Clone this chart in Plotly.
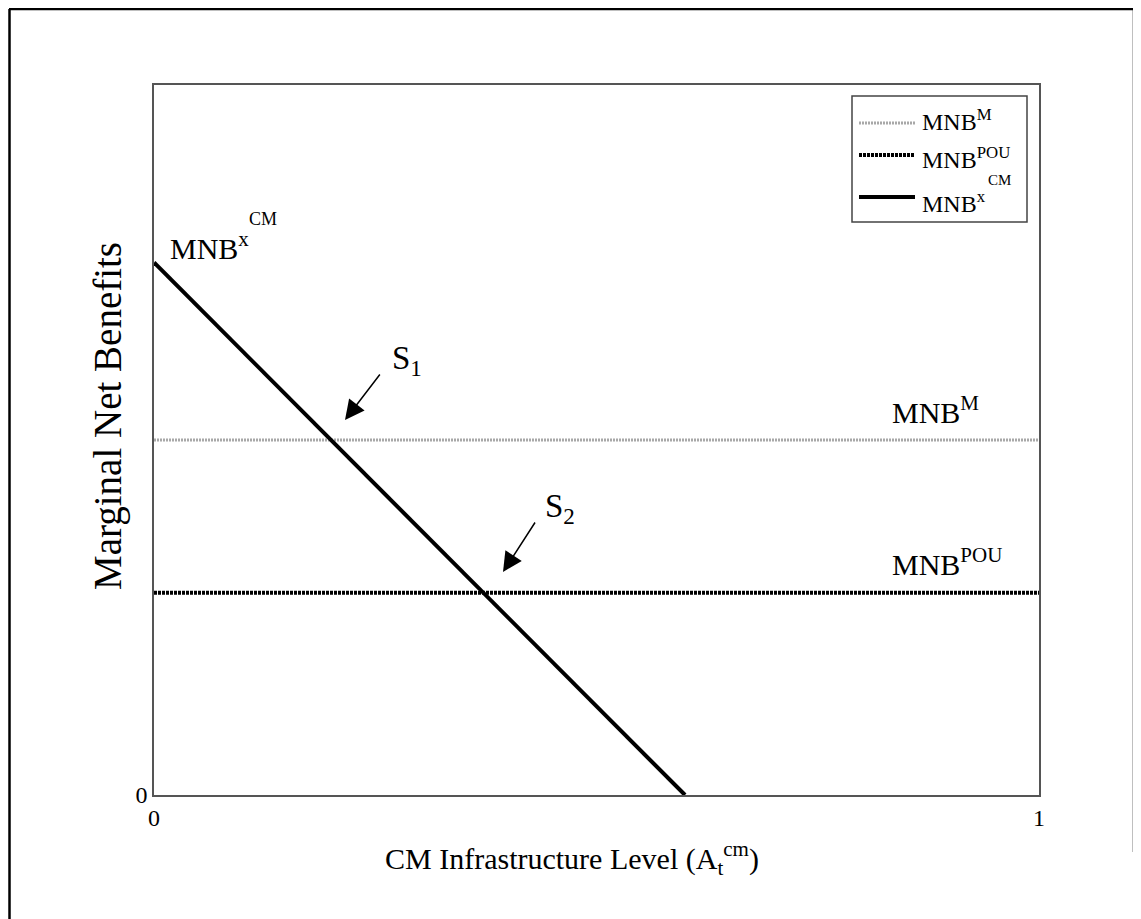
import plotly.graph_objects as go

# Data (normalized units)
x_cm = [0.0, 0.6]
y_cm = [0.75, 0.0]
mnb_m = 0.5
mnb_pou = 0.285
x_range = [0, 1]
x_ticks = [0, 1]
y_ticks = [0]

FONT = "Liberation Serif"
OFF = 8  # page body margin
L, R, T, B = 154, 1039, 85, 795  # plot area in page pixels
W, H = R - L, B - T

def px(xp):
    return (xp - L) / W

def py(yp):
    return (B - yp) / H

fig = go.Figure()
fig.add_trace(go.Scatter(x=x_range, y=[mnb_m, mnb_m], mode="lines",
                         line=dict(color="#a8a8a8", width=3, dash="2px,1px"),
                         showlegend=False, hoverinfo="skip"))
fig.add_trace(go.Scatter(x=x_range, y=[mnb_pou, mnb_pou], mode="lines",
                         line=dict(color="black", width=4, dash="3px,1px"),
                         showlegend=False, hoverinfo="skip"))
fig.add_trace(go.Scatter(x=x_cm, y=y_cm, mode="lines",
                         line=dict(color="black", width=4),
                         showlegend=False, hoverinfo="skip"))

shapes = []
# outer frame (top, left, right)
frame = dict(color="black", width=2.5)
shapes.append(dict(type="line", xref="paper", yref="paper",
                   x0=px(9), x1=px(1134), y0=py(9), y1=py(9), line=frame))
shapes.append(dict(type="line", xref="paper", yref="paper",
                   x0=px(9.5), x1=px(9.5), y0=py(9), y1=py(930), line=frame))
shapes.append(dict(type="line", xref="paper", yref="paper",
                   x0=px(1134), x1=px(1134), y0=py(9), y1=py(852), line=frame))
# legend box
lx0, lx1, ly0, ly1 = 852, 1027, 96, 222
shapes.append(dict(type="rect", xref="paper", yref="paper",
                   x0=px(lx0), x1=px(lx1), y0=py(ly1), y1=py(ly0),
                   line=dict(color="#444", width=1.5), fillcolor="white"))
# legend samples
leg_y = [123, 155, 197]
leg_styles = [dict(color="#a8a8a8", width=3, dash="2px,1px"),
              dict(color="black", width=4, dash="3px,1px"),
              dict(color="black", width=4)]
for yy, st in zip(leg_y, leg_styles):
    shapes.append(dict(type="line", xref="paper", yref="paper",
                       x0=px(859), x1=px(915), y0=py(yy), y1=py(yy), line=st))

ann = []
def txt(x, y, s, size, xanchor="left", yanchor="middle", angle=0):
    ann.append(dict(x=x, y=y, xref="paper", yref="paper", text=s, showarrow=False,
                    font=dict(family=FONT, size=size, color="black"),
                    xanchor=xanchor, yanchor=yanchor, textangle=angle))

# legend texts
txt(px(920), py(120), "MNB<sup>M</sup>", 24)
txt(px(920), py(158), "MNB<sup>POU</sup>", 24)
txt(px(920), py(202), "MNB<sup>x</sup>", 24)
txt(px(986), py(180), "CM", 15)

# curve labels
txt(px(168), py(246), "MNB<sup>x</sup>", 30)
txt(px(247), py(219), "CM", 18)
txt(px(890), py(410), "MNB<sup>M</sup>", 30)
txt(px(890), py(562), "MNB<sup>POU</sup>", 30)

# S labels
txt(px(390), py(360), "S<sub>1</sub>", 33)
txt(px(543), py(508), "S<sub>2</sub>", 33)

# arrows (x/y axes span the full plot area with range [0,1])
for tip, tail in [((345, 420), (381, 373)), ((503, 572), (536, 521))]:
    ann.append(dict(x=px(tip[0]), y=py(tip[1]), xref="x", yref="y",
                    ax=px(tail[0]), ay=py(tail[1]), axref="x", ayref="y",
                    showarrow=True, arrowhead=2, arrowsize=2.6, arrowwidth=1.5,
                    arrowcolor="black", text=""))

# axis titles
txt(px(572), py(858), "CM Infrastructure Level (A<sub>t</sub><sup>cm</sup>)", 30, xanchor="center")
txt(px(108), py(416), "Marginal Net Benefits", 39, xanchor="center", angle=-90)

fig.update_layout(
    width=1141, height=919,
    margin=dict(l=L - OFF, r=1141 - (R - OFF), t=T - OFF, b=919 - (B - OFF)),
    paper_bgcolor="white", plot_bgcolor="white",
    font=dict(family=FONT, color="black"),
    shapes=shapes, annotations=ann,
    xaxis=dict(range=[0, 1], tickvals=x_ticks, ticktext=[str(v) for v in x_ticks],
               showgrid=False, zeroline=False, showline=True, mirror=True,
               linecolor="#555", linewidth=1.5, ticks="",
               tickfont=dict(family=FONT, size=24)),
    yaxis=dict(range=[0, 1], tickvals=y_ticks, ticktext=[str(v) for v in y_ticks],
               showgrid=False, zeroline=False, showline=True, mirror=True,
               linecolor="#555", linewidth=1.5, ticks="",
               tickfont=dict(family=FONT, size=24)),
)

fig.write_html("out.html")
